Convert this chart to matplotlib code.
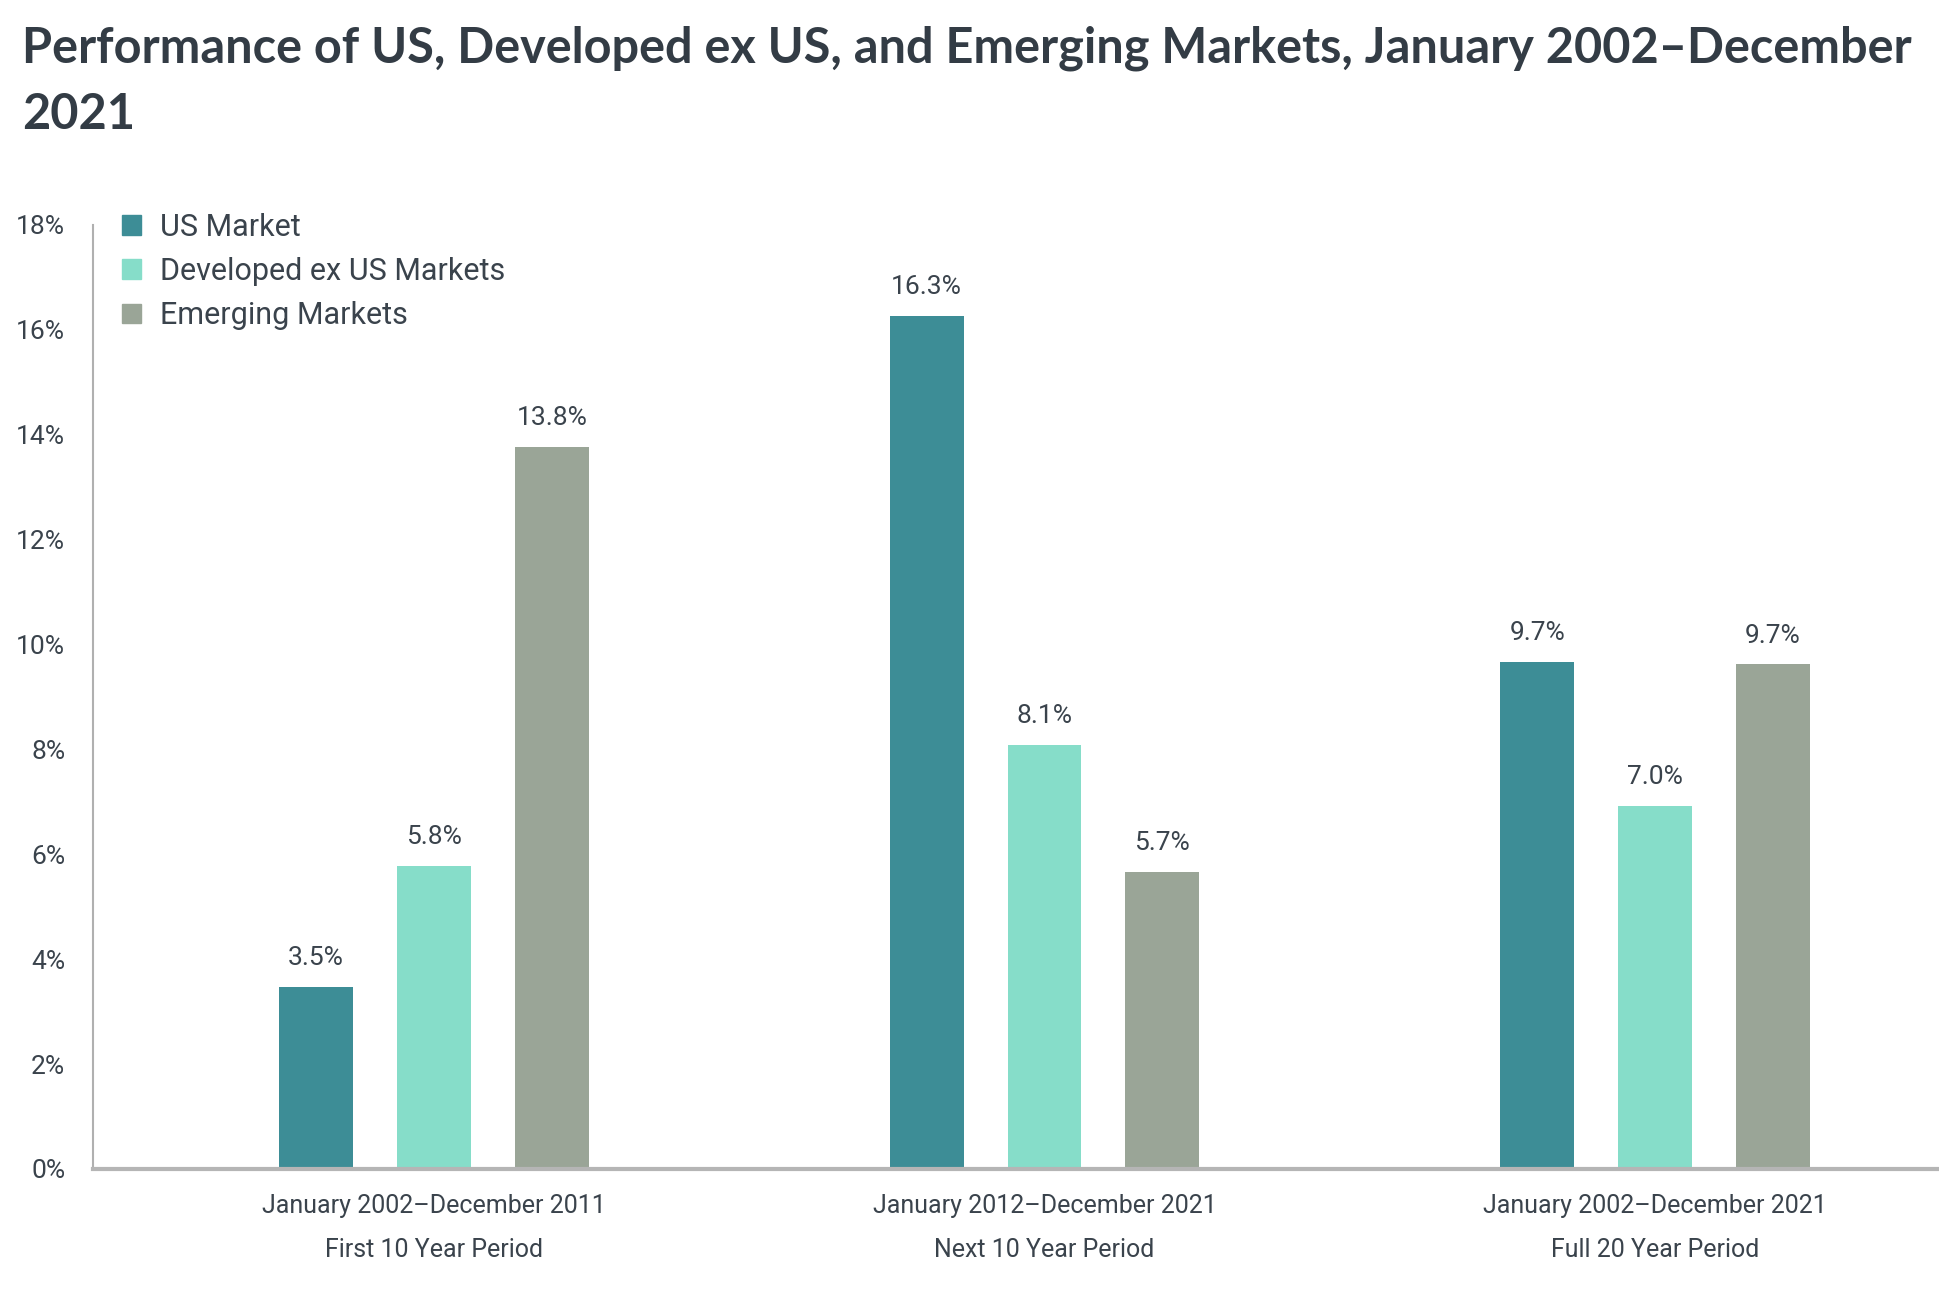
import matplotlib
matplotlib.use("Agg")
import matplotlib.pyplot as plt
from matplotlib.patches import Rectangle

periods = ["January 2002–December 2011\nFirst 10 Year Period",
           "January 2012–December 2021\nNext 10 Year Period",
           "January 2002–December 2021\nFull 20 Year Period"]
series_names = ["US Market", "Developed ex US Markets", "Emerging Markets"]
us_values = [3.47, 16.27, 9.67]
dev_values = [5.78, 8.09, 6.93]
em_values = [13.77, 5.66, 9.62]
us_labels = ["3.5%", "16.3%", "9.7%"]
dev_labels = ["5.8%", "8.1%", "7.0%"]
em_labels = ["13.8%", "5.7%", "9.7%"]
yticks = [0, 2, 4, 6, 8, 10, 12, 14, 16, 18]
colors = ["#3d8d96", "#86ddc9", "#9aa597"]

fnt = "Roboto"
txt = "#3a434c"

fig = plt.figure(figsize=(19.4, 12.98), dpi=100)
ax = fig.add_axes([0.0479, 0.0994, 0.9521, 0.7273])

width = 0.121
offset = 0.193
xs = list(range(len(periods)))
all_vals = [us_values, dev_values, em_values]
all_labs = [us_labels, dev_labels, em_labels]
for i, (vals, labs) in enumerate(zip(all_vals, all_labs)):
    pos = [x + (i - 1) * offset for x in xs]
    bars = ax.bar(pos, vals, width=width, color=colors[i], zorder=2)
    for b, lab in zip(bars, labs):
        ax.annotate(lab, (b.get_x() + b.get_width() / 2, b.get_height()),
                    xytext=(0, 12), textcoords="offset points",
                    ha="center", va="bottom", fontsize=19, color=txt,
                    family=fnt)

ax.set_xlim(-0.5586, 2.4668)
ax.set_ylim(0, 18)
ax.set_yticks(yticks)
ax.set_yticklabels([f"{t}%" for t in yticks], family=fnt, fontsize=19, color=txt)
ax.set_xticks(xs)
ax.set_xticklabels(periods, family=fnt, fontsize=18, color=txt, linespacing=2.05)
ax.tick_params(axis="y", length=0, pad=20)
ax.tick_params(axis="x", length=0, pad=18)
for s in ["top", "right"]:
    ax.spines[s].set_visible(False)
ax.spines["left"].set_color("#b0b0b0")
ax.spines["left"].set_linewidth(1.5)
ax.spines["bottom"].set_color("#b5b5b5")
ax.spines["bottom"].set_linewidth(3)

# legend
handles = [Rectangle((0, 0), 1, 1, color=c) for c in colors]
leg = ax.legend(handles, series_names, loc="upper left", bbox_to_anchor=(0.001, 1.042),
                frameon=False, handlelength=0.62, handleheight=0.62, handletextpad=0.6,
                labelspacing=0.5, prop={"family": fnt, "size": 22})
for t in leg.get_texts():
    t.set_color(txt)

fig.text(0.0113, 0.980, "Performance of US, Developed ex US, and Emerging Markets, January 2002–December\n2021",
         ha="left", va="top", fontsize=35, fontweight="bold", family="Lato", color="#333c45",
         linespacing=1.55)

fig.savefig("out.png", dpi=100, facecolor="white")
